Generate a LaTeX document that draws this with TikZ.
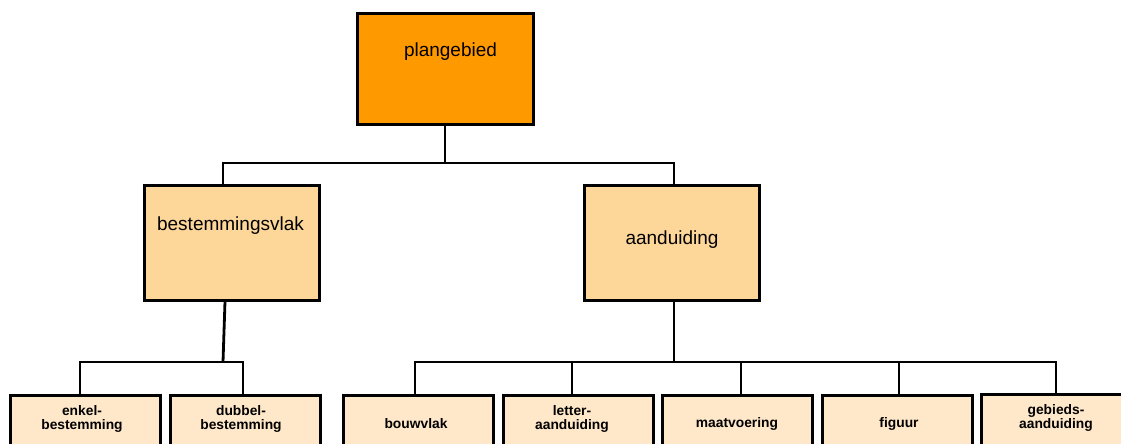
\documentclass[tikz,border=0pt]{standalone}
\usepackage{fontspec}
\setmainfont{Liberation Sans}
\definecolor{topfill}{HTML}{FF9900}
\definecolor{midfill}{HTML}{FDD699}
\definecolor{lowfill}{HTML}{FFE8C9}
\tikzset{
  boxbase/.style={draw=black, line width=3pt, rectangle, inner sep=0pt},
  topbox/.style={boxbase, fill=topfill, minimum width=176pt, minimum height=110pt},
  midbox/.style={boxbase, fill=midfill, minimum width=175pt, minimum height=115pt},
  lowbox/.style={boxbase, fill=lowfill, minimum width=150pt, minimum height=60pt},
  biglabel/.style={font=\fontsize{19}{22}\selectfont, inner sep=0pt},
  smalllabel/.style={font=\fontsize{13.8}{14.5}\selectfont\bfseries, align=center, inner sep=0pt},
  conn/.style={draw=black, line width=2.8pt}
}
\begin{document}
\begin{tikzpicture}[x=1pt,y=-1pt]
\useasboundingbox (0,0) rectangle (1121,444);
% top
\node[topbox] (plan) at (445,69) {};
\node[biglabel] (planl) at (450.5,52) {plangebied};
% middle
\node[midbox] (bv) at (231.5,242.5) {};
\node[biglabel] (bvl) at (230.5,226) {bestemmingsvlak};
\node[midbox] (ad) at (672,242.5) {};
\node[biglabel] (adl) at (672,240) {aanduiding};
% bottom
\node[lowbox] (e1) at (85,425) {};
\node[smalllabel] (e1l) at (82,419) {enkel-\\bestemming};
\node[lowbox] (e2) at (245,425) {};
\node[smalllabel] (e2l) at (241,419) {dubbel-\\bestemming};
\node[lowbox] (a1) at (418,425) {};
\node[smalllabel] (a1l) at (416,424) {bouwvlak};
\node[lowbox] (a2) at (578,425) {};
\node[smalllabel] (a2l) at (572,419) {letter-\\aanduiding};
\node[lowbox] (a3) at (737,425) {};
\node[smalllabel] (a3l) at (737,424) {maatvoering};
\node[lowbox] (a4) at (897,425) {};
\node[smalllabel] (a4l) at (899,424) {figuur};
\node[lowbox] (a5) at (1056,424) {};
\node[smalllabel] (a5l) at (1056,418) {gebieds-\\aanduiding};
% junctions
\coordinate (t1) at (223,163);
\coordinate (t2) at (674,163);
\coordinate (b1) at (80,362);
\coordinate (b2) at (243,362);
\coordinate (bm) at (223,362);
\coordinate (c1) at (415,362);
\coordinate (c2) at (572,362);
\coordinate (c3) at (741,362);
\coordinate (c4) at (899,362);
\coordinate (c5) at (1056,362);
% connectors
\draw[conn] (plan.south) -- (plan.south |- t1);
\draw[conn] (bv.north -| t1) |- (t2) -- (ad.north -| t2);
\draw[conn] ([xshift=-6.5pt]bv.south) -- (bm);
\draw[conn] (e1.north -| b1) |- (b2) -- (e2.north -| b2);
\draw[conn] (ad.south -| t2) -- (t2 |- c1);
\draw[conn] (a1.north -| c1) |- (c5) -- (a5.north -| c5);
\draw[conn] (c2) -- (a2.north -| c2);
\draw[conn] (c3) -- (a3.north -| c3);
\draw[conn] (c4) -- (a4.north -| c4);
\end{tikzpicture}
\end{document}
